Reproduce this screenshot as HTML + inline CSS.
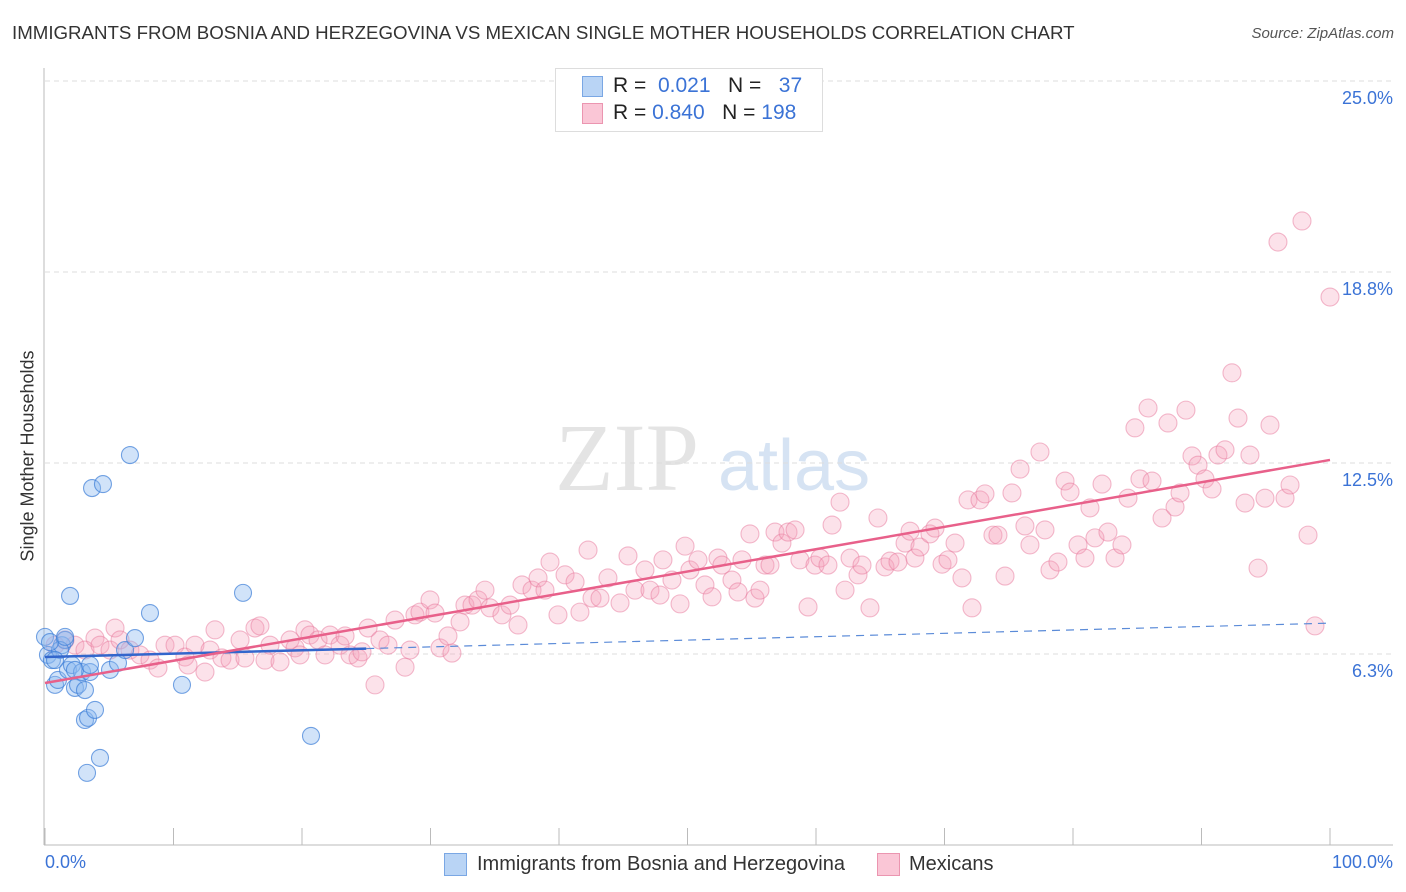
<!DOCTYPE html>
<html><head><meta charset="utf-8">
<style>
body{margin:0;background:#fff;font-family:"Liberation Sans",sans-serif;}
#wrap{position:relative;width:1406px;height:892px;overflow:hidden;}
.t{position:absolute;white-space:nowrap;}
</style></head>
<body>
<div id="wrap">
<div class="t" style="left:12px;top:22px;font-size:18.7px;color:#333;">IMMIGRANTS FROM BOSNIA AND HERZEGOVINA VS MEXICAN SINGLE MOTHER HOUSEHOLDS CORRELATION CHART</div>
<div class="t" style="right:12px;top:25px;font-size:15px;color:#555;font-style:italic;">Source: ZipAtlas.com</div>
<svg id="svg" width="1406" height="892" style="position:absolute;left:0;top:0"></svg>
</div>
<script>
const yTicks=[25,18.75,12.5,6.25];
const yTickLabels=["25.0%","18.8%","12.5%","6.3%"];
const blueX=[0,0.23,0.54,0.78,1.01,1.32,1.56,1.79,2.1,2.33,2.57,2.88,3.11,3.11,3.35,3.5,3.66,3.89,4.28,3.27,4.51,1.95,5.06,5.68,6.23,6.61,7.0,8.17,10.66,15.41,20.7,1.17,0.39,1.56,0.78,2.33,3.5];
const blueY=[6.81,6.22,6.05,5.24,5.4,6.54,6.71,5.73,5.89,5.14,5.24,5.66,5.07,4.09,4.16,5.66,11.68,4.42,2.85,2.36,11.81,8.15,5.73,5.96,6.38,12.76,6.77,7.59,5.24,8.25,3.57,6.38,6.64,6.81,6.05,5.73,5.89];
const pinkX=[0.78,1.56,2.33,3.11,3.89,4.28,5.06,5.45,5.84,6.61,7.39,8.17,8.79,9.34,10.12,10.89,11.13,11.67,12.45,12.84,13.23,13.77,14.4,15.18,15.56,16.34,16.73,17.12,17.51,18.29,19.07,19.46,19.84,20.23,20.62,21.25,21.79,22.18,22.96,23.35,23.74,24.36,24.67,25.14,25.68,26.07,26.69,27.24,28.02,28.4,28.79,29.18,29.96,30.35,30.74,31.36,31.67,32.3,32.68,33.23,33.7,34.24,34.63,35.56,36.19,36.81,37.12,37.9,38.37,38.91,39.3,39.92,40.47,41.25,41.63,42.26,42.57,43.19,43.81,44.75,45.37,45.91,46.69,47.08,47.86,48.09,48.79,49.42,49.81,50.19,50.82,51.36,51.91,52.37,52.68,53.46,53.93,54.24,54.86,55.25,55.64,56.03,56.42,56.81,57.35,57.82,58.37,58.75,59.38,59.92,60.31,60.93,61.25,61.87,62.26,62.65,63.27,63.58,64.2,64.82,65.37,65.76,66.38,66.93,67.32,67.7,68.09,68.87,69.26,69.81,70.27,70.82,71.36,71.83,72.14,72.76,73.15,73.77,74.16,74.71,75.25,75.88,76.26,76.65,77.43,77.82,78.21,78.83,79.38,79.77,80.39,80.93,81.32,81.71,82.26,82.72,83.27,83.81,84.28,84.82,85.21,85.84,86.15,86.93,87.39,87.94,88.33,88.79,89.26,89.73,90.27,90.82,91.28,91.83,92.37,92.84,93.39,93.77,94.4,94.94,95.33,95.95,96.5,96.89,97.82,98.29,98.83,100];
const pinkY=[6.54,6.71,6.54,6.38,6.77,6.54,6.38,7.10,6.71,6.38,6.22,6.05,5.79,6.54,6.54,6.15,5.89,6.54,5.66,6.38,7.04,6.12,6.05,6.71,6.12,7.10,7.17,6.05,6.54,5.99,6.71,6.45,6.22,7.04,6.87,6.71,6.22,6.87,6.54,6.84,6.22,6.12,6.32,7.10,5.24,6.71,6.54,7.36,5.82,6.38,7.53,7.62,8.02,7.59,6.45,6.84,6.28,7.30,7.85,7.85,8.02,8.34,7.76,7.53,7.85,7.20,8.51,8.34,8.74,8.34,9.26,7.53,8.84,8.61,7.62,9.65,8.08,8.08,8.74,7.92,9.46,8.34,9.0,8.34,8.18,9.33,8.67,7.89,9.78,9.0,9.33,8.51,8.12,9.39,9.16,8.67,8.28,9.33,10.18,8.08,8.34,9.16,9.16,10.24,9.88,10.24,10.31,9.33,7.79,9.16,9.39,9.16,10.47,11.22,8.34,9.39,8.84,9.16,7.76,10.7,9.1,9.29,9.26,9.88,10.27,9.39,9.75,10.18,10.37,9.19,9.33,9.88,8.74,11.29,7.76,11.29,11.49,10.14,10.14,8.8,11.52,12.3,10.44,9.82,12.86,10.31,9.0,9.26,11.91,11.55,9.82,9.39,11.03,10.05,11.81,10.24,9.39,9.82,11.35,13.65,11.98,14.3,11.91,10.7,13.81,11.06,11.52,14.23,12.73,12.43,11.98,11.65,12.76,12.93,15.45,13.97,11.19,12.76,9.06,11.35,13.74,19.73,11.35,11.78,20.42,10.14,7.17,17.93];
const pinkTrend=[5.3,12.6];
const blueTrend=[6.15,7.26];
const blueSolidEnd=25;

const X=v=>45+v*12.85;
const Y=v=>845-v*30.56;
const svg=document.getElementById('svg');
const NS='http://www.w3.org/2000/svg';
function mk(tag,attrs){const e=document.createElementNS(NS,tag);for(const k in attrs)e.setAttribute(k,attrs[k]);svg.appendChild(e);return e;}

let w=mk('text',{x:555,y:490,'font-size':96,fill:'#e4e4e4','font-family':'Liberation Serif, serif'});w.textContent='ZIP';


let w2=mk('text',{x:718,y:490,'font-size':72,fill:'#d6e3f3','font-family':'Liberation Sans, sans-serif'});w2.textContent='atlas';



yTicks.forEach((t,i)=>{
  const g=mk('line',{x1:45,x2:1393,y1:Y(t),y2:Y(t),stroke:'#ddd','stroke-dasharray':'5,4'});
  
  
  const l=mk('text',{x:1393,y:Y(t)+23,'text-anchor':'end','font-size':18,fill:'#3b73d6','font-family':'Liberation Sans, sans-serif'});
  l.textContent=yTickLabels[i];
  
  
});
let ax=mk('line',{x1:44,x2:44,y1:68,y2:845,stroke:'#bbb'});


let bx=mk('line',{x1:44,x2:1393,y1:845,y2:845,stroke:'#bbb'});


for(let i=0;i<=10;i++){
  const tk=mk('line',{x1:X(i*10),x2:X(i*10),y1:828,y2:845,stroke:'#bbb'});
  
  
}

pinkX.forEach((v,i)=>{
  const c=mk('circle',{cx:X(v),cy:Y(pinkY[i]),r:9,fill:'rgba(244,160,185,0.3)',stroke:'rgba(232,120,155,0.5)','stroke-width':1.1});
  
  
});
blueX.forEach((v,i)=>{
  const c=mk('circle',{cx:X(v),cy:Y(blueY[i]),r:8.5,fill:'rgba(140,185,240,0.4)',stroke:'rgba(60,125,215,0.7)','stroke-width':1.1});
  
  
});
const bAt=x=>blueTrend[0]+(blueTrend[1]-blueTrend[0])*x/100;
let bd=mk('line',{x1:X(blueSolidEnd),y1:Y(bAt(blueSolidEnd)),x2:X(100),y2:Y(bAt(100)),stroke:'#5b8bd8','stroke-width':1.2,'stroke-dasharray':'8,6'});


let bs=mk('line',{x1:X(0),y1:Y(bAt(0)),x2:X(blueSolidEnd),y2:Y(bAt(blueSolidEnd)),stroke:'#3366cc','stroke-width':2.5});


let pt=mk('line',{x1:X(0),y1:Y(pinkTrend[0]),x2:X(100),y2:Y(pinkTrend[1]),stroke:'#e8608a','stroke-width':2.5});


</script>
<div class="t" style="left:28px;top:456px;font-size:18px;color:#333;transform:translate(-50%,-50%) rotate(-90deg);">Single Mother Households</div>
<div class="t" style="left:45px;top:852px;font-size:18px;color:#3b73d6;">0.0%</div>
<div class="t" style="right:13px;top:852px;font-size:18px;color:#3b73d6;">100.0%</div>
<div style="position:absolute;left:555px;top:68px;width:266px;height:62px;border:1px solid #ddd;background:#fff;font-size:21px;color:#222;">
  <div style="position:absolute;left:26px;top:7px;width:19px;height:19px;background:#b9d4f5;border:1px solid #7aa7e4;"></div>
  <div class="t" style="left:57px;top:5px;">R = <span style="color:#3b73d6">&nbsp;0.021</span>&nbsp;&nbsp;&nbsp;N = <span style="color:#3b73d6">&nbsp;&nbsp;37</span></div>
  <div style="position:absolute;left:26px;top:34px;width:19px;height:19px;background:#fac6d6;border:1px solid #eb95b0;"></div>
  <div class="t" style="left:57px;top:32px;">R = <span style="color:#3b73d6">0.840</span>&nbsp;&nbsp;&nbsp;N = <span style="color:#3b73d6">198</span></div>
</div>
<div style="position:absolute;left:444px;top:853px;font-size:20px;color:#333;">
  <div style="position:absolute;left:0;top:0;width:21px;height:21px;background:#b9d4f5;border:1px solid #7aa7e4;"></div>
  <div class="t" style="left:33px;top:0px;">Immigrants from Bosnia and Herzegovina</div>
</div>
<div style="position:absolute;left:877px;top:853px;font-size:20px;color:#333;">
  <div style="position:absolute;left:0;top:0;width:21px;height:21px;background:#fac6d6;border:1px solid #eb95b0;"></div>
  <div class="t" style="left:32px;top:0px;">Mexicans</div>
</div>
</body></html>
